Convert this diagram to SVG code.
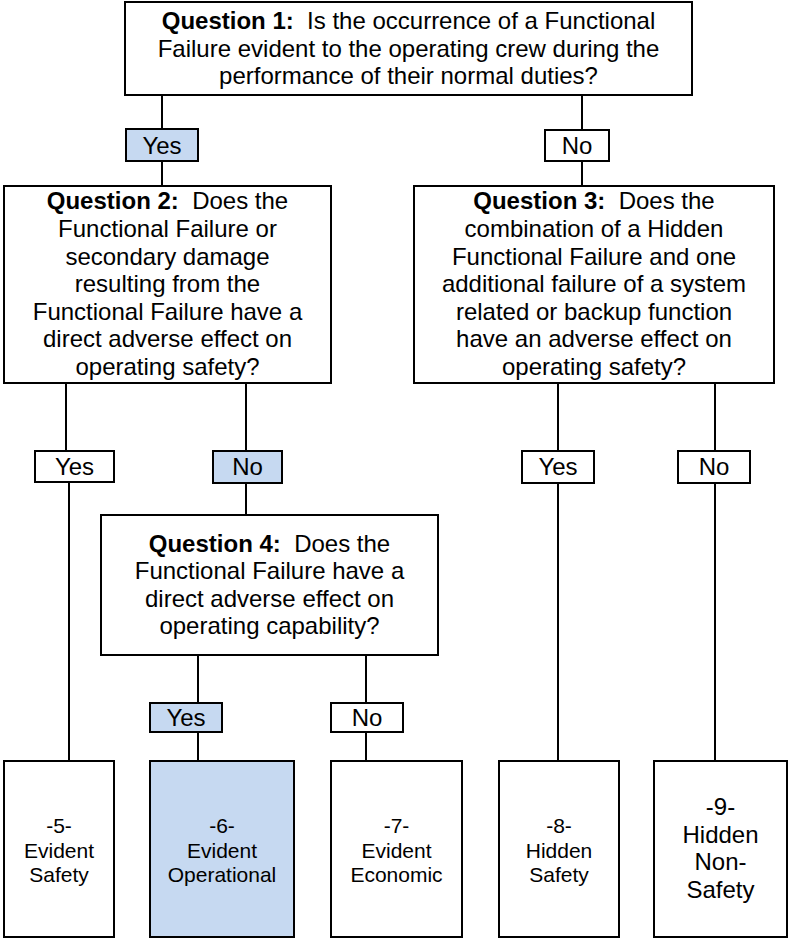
<svg xmlns="http://www.w3.org/2000/svg" width="793" height="940" viewBox="0 0 793 940">
<style>
  .box { fill: #FFFFFF; stroke: #000000; stroke-width: 2; }
  .hl { fill: #C6D9F1; stroke: #000000; stroke-width: 2; }
  .t { font-family: "Liberation Sans", Arial, sans-serif; font-size: 24px; fill: #000000; text-anchor: middle; }
  .s { font-family: "Liberation Sans", Arial, sans-serif; font-size: 21px; fill: #000000; text-anchor: middle; }
  .b { font-weight: bold; }
  .conn line { stroke: #000000; stroke-width: 2; }
</style>
<rect width="793" height="940" fill="#FFFFFF"/>

<g id="connectors" class="conn">
  <line x1="162" y1="95" x2="162" y2="129"/>
  <line x1="162" y1="161" x2="162" y2="186"/>
  <line x1="582" y1="95" x2="582" y2="130"/>
  <line x1="582" y1="161" x2="582" y2="186"/>
  <line x1="66" y1="383" x2="66" y2="451"/>
  <line x1="69" y1="482" x2="69" y2="761"/>
  <line x1="246" y1="383" x2="246" y2="451"/>
  <line x1="246" y1="483" x2="246" y2="515"/>
  <line x1="558" y1="383" x2="558" y2="451"/>
  <line x1="558" y1="483" x2="558" y2="761"/>
  <line x1="715" y1="383" x2="715" y2="451"/>
  <line x1="715" y1="483" x2="715" y2="761"/>
  <line x1="198" y1="655" x2="198" y2="703"/>
  <line x1="198" y1="732" x2="198" y2="761"/>
  <line x1="366" y1="655" x2="366" y2="703"/>
  <line x1="366" y1="732" x2="366" y2="761"/>
</g>

<g id="q1">
  <rect class="box" x="125" y="2" width="567" height="93"/>
  <text class="t" x="408.5" y="29" xml:space="preserve"><tspan class="b">Question 1:</tspan>  Is the occurrence of a Functional</text>
  <text class="t" x="408.5" y="56.6">Failure evident to the operating crew during the</text>
  <text class="t" x="408.5" y="84.2">performance of their normal duties?</text>
</g>

<g id="l1-yes">
  <rect class="hl" x="126" y="129" width="72" height="32"/>
  <text class="t" x="162" y="153.5">Yes</text>
</g>
<g id="l1-no">
  <rect class="box" x="545" y="130" width="64" height="31"/>
  <text class="t" x="577" y="153.5">No</text>
</g>

<g id="q2">
  <rect class="box" x="4" y="186" width="327" height="197"/>
  <text class="t" x="167.5" y="209.3" xml:space="preserve"><tspan class="b">Question 2:</tspan>  Does the</text>
  <text class="t" x="167.5" y="236.9">Functional Failure or</text>
  <text class="t" x="167.5" y="264.5">secondary damage</text>
  <text class="t" x="167.5" y="292.1">resulting from the</text>
  <text class="t" x="167.5" y="319.7">Functional Failure have a</text>
  <text class="t" x="167.5" y="347.3">direct adverse effect on</text>
  <text class="t" x="167.5" y="374.9">operating safety?</text>
</g>

<g id="q3">
  <rect class="box" x="414" y="186" width="360" height="197"/>
  <text class="t" x="594" y="209.3" xml:space="preserve"><tspan class="b">Question 3:</tspan>  Does the</text>
  <text class="t" x="594" y="236.9">combination of a Hidden</text>
  <text class="t" x="594" y="264.5">Functional Failure and one</text>
  <text class="t" x="594" y="292.1">additional failure of a system</text>
  <text class="t" x="594" y="319.7">related or backup function</text>
  <text class="t" x="594" y="347.3">have an adverse effect on</text>
  <text class="t" x="594" y="374.9">operating safety?</text>
</g>

<g id="l2-yes">
  <rect class="box" x="35" y="451" width="79" height="31"/>
  <text class="t" x="74.5" y="475">Yes</text>
</g>
<g id="l2-no">
  <rect class="hl" x="213" y="451" width="69" height="32"/>
  <text class="t" x="247.5" y="475">No</text>
</g>
<g id="l3-yes">
  <rect class="box" x="522" y="451" width="72" height="32"/>
  <text class="t" x="558" y="475">Yes</text>
</g>
<g id="l3-no">
  <rect class="box" x="678" y="451" width="72" height="32"/>
  <text class="t" x="714" y="475">No</text>
</g>

<g id="q4">
  <rect class="box" x="101" y="515" width="337" height="140"/>
  <text class="t" x="269.5" y="551.5" xml:space="preserve"><tspan class="b">Question 4:</tspan>  Does the</text>
  <text class="t" x="269.5" y="579.1">Functional Failure have a</text>
  <text class="t" x="269.5" y="606.7">direct adverse effect on</text>
  <text class="t" x="269.5" y="634.3">operating capability?</text>
</g>

<g id="l4-yes">
  <rect class="hl" x="150" y="703" width="72" height="29"/>
  <text class="t" x="186" y="726">Yes</text>
</g>
<g id="l4-no">
  <rect class="box" x="331" y="703" width="72" height="29"/>
  <text class="t" x="367" y="726">No</text>
</g>

<g id="r5">
  <rect class="box" x="4" y="761" width="110" height="176"/>
  <text class="s" x="59" y="833.3">-5-</text>
  <text class="s" x="59" y="857.5">Evident</text>
  <text class="s" x="59" y="881.7">Safety</text>
</g>
<g id="r6">
  <rect class="hl" x="150" y="761" width="144" height="176"/>
  <text class="s" x="222" y="833.3">-6-</text>
  <text class="s" x="222" y="857.5">Evident</text>
  <text class="s" x="222" y="881.7">Operational</text>
</g>
<g id="r7">
  <rect class="box" x="331" y="761" width="131" height="176"/>
  <text class="s" x="396.5" y="833.3">-7-</text>
  <text class="s" x="396.5" y="857.5">Evident</text>
  <text class="s" x="396.5" y="881.7">Economic</text>
</g>
<g id="r8">
  <rect class="box" x="499" y="761" width="120" height="176"/>
  <text class="s" x="559" y="833.3">-8-</text>
  <text class="s" x="559" y="857.5">Hidden</text>
  <text class="s" x="559" y="881.7">Safety</text>
</g>
<g id="r9">
  <rect class="box" x="654" y="761" width="133" height="176"/>
  <text class="t" x="720.5" y="815">-9-</text>
  <text class="t" x="720.5" y="842.6">Hidden</text>
  <text class="t" x="720.5" y="870.2">Non-</text>
  <text class="t" x="720.5" y="897.8">Safety</text>
</g>
</svg>
